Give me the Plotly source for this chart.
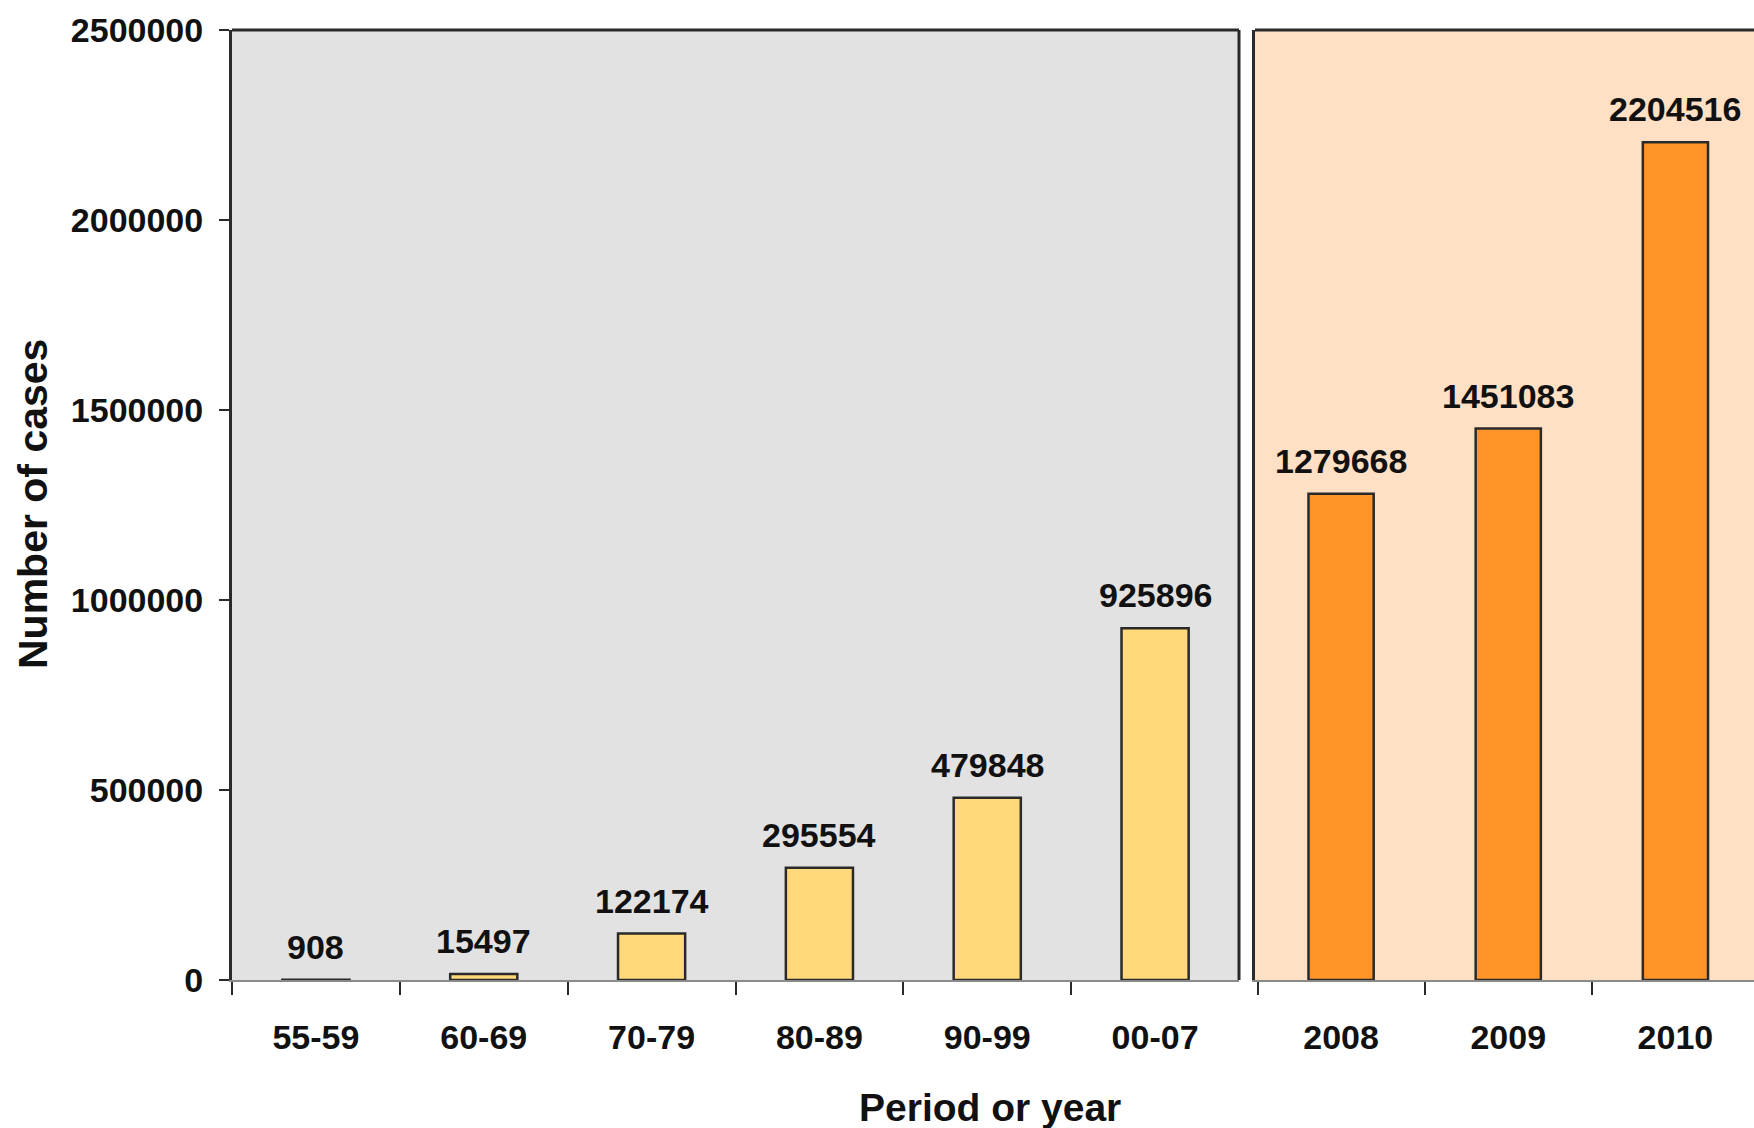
import plotly.graph_objects as go

# Case counts by period (left panel) and by single year (right panel)
periods = ["55-59", "60-69", "70-79", "80-89", "90-99", "00-07"]
period_cases = [908, 15497, 122174, 295554, 479848, 925896]

years = ["2008", "2009", "2010"]
year_cases = [1279668, 1451083, 2204516]

y_ticks = [0, 500000, 1000000, 1500000, 2000000, 2500000]

W, H = 1754, 1128
NUM_FONT = dict(family="Liberation Sans, Arial", size=34, color="#111111")
TITLE_FONT = dict(family="Liberation Sans, Arial", size=41, color="#111111")
XTITLE_FONT = dict(family="Liberation Sans, Arial", size=39, color="#111111")

X1_DOM = [232 / W, 1239 / W]
X2_DOM = [1255 / W, 1.0]
Y_DOM = [1 - 980 / H, 1 - 30 / H]

LEFT_BG = "#E2E2E2"
RIGHT_BG = "#FFE0C4"
YELLOW = "#FFD97A"
ORANGE = "#FF9429"
FRAME = "#2a2a2a"

fig = go.Figure()

fig.add_trace(go.Bar(
    x=periods, y=period_cases, xaxis="x", yaxis="y",
    marker=dict(color=YELLOW, line=dict(color=FRAME, width=2.5)),
    width=0.4, showlegend=False, hoverinfo="x+y",
))
fig.add_trace(go.Bar(
    x=years, y=year_cases, xaxis="x2", yaxis="y2",
    marker=dict(color=ORANGE, line=dict(color=FRAME, width=2.5)),
    width=0.39, showlegend=False, hoverinfo="x+y",
))

# Value labels above each bar (x given as category index)
annotations = []
for xa, ya, vals in (("x", "y", period_cases), ("x2", "y2", year_cases)):
    for i, v in enumerate(vals):
        annotations.append(dict(
            x=i, y=v, xref=xa, yref=ya, text=f"<b>{v}</b>", showarrow=False,
            xanchor="center", yanchor="bottom", yshift=12, font=NUM_FONT,
        ))

# Axis titles
annotations.append(dict(
    x=33 / W, y=1 - 504 / H, xref="paper", yref="paper", text="<b>Number of cases</b>",
    textangle=-90, showarrow=False, xanchor="center", yanchor="middle", font=TITLE_FONT,
))
annotations.append(dict(
    x=990 / W, y=1 - 1107 / H, xref="paper", yref="paper", text="<b>Period or year</b>",
    showarrow=False, xanchor="center", yanchor="middle", font=XTITLE_FONT,
))

shapes = [
    # panel backgrounds
    dict(type="rect", xref="x domain", yref="y domain", x0=0, x1=1, y0=0, y1=1,
         fillcolor=LEFT_BG, line=dict(width=0), layer="below"),
    dict(type="rect", xref="x2 domain", yref="y2 domain", x0=0, x1=1.01, y0=0, y1=1,
         fillcolor=RIGHT_BG, line=dict(width=0), layer="below"),
    # panel frames: top and right edge of the left panel, top of the right panel
    dict(type="line", xref="x domain", yref="y domain", x0=0, x1=1, y0=1, y1=1,
         line=dict(color=FRAME, width=3)),
    dict(type="line", xref="x domain", yref="y domain", x0=1, x1=1, y0=0, y1=1,
         line=dict(color=FRAME, width=3)),
    dict(type="line", xref="x2 domain", yref="y2 domain", x0=0, x1=1.01, y0=1, y1=1,
         line=dict(color=FRAME, width=3)),
]

xaxis_common = dict(
    type="category", showgrid=False, zeroline=False, automargin=False,
    showline=True, linecolor="#8a8a8a", linewidth=2,
    ticks="outside", tickson="boundaries", ticklen=13, tickwidth=2, tickcolor=FRAME,
    tickfont=NUM_FONT, ticklabelstandoff=26,
)

fig.update_layout(
    width=W, height=H,
    margin=dict(l=0, r=0, t=0, b=0, autoexpand=False),
    paper_bgcolor="white", plot_bgcolor="rgba(0,0,0,0)",
    xaxis=dict(**xaxis_common, anchor="y", domain=X1_DOM, range=[-0.5, 5.5],
               tickvals=list(range(len(periods))), ticktext=[f"<b>{p}</b>" for p in periods]),
    xaxis2=dict(**xaxis_common, anchor="y2", domain=X2_DOM, range=[-0.515, 2.47],
                tickvals=list(range(len(years))), ticktext=[f"<b>{y}</b>" for y in years]),
    yaxis=dict(
        domain=Y_DOM, anchor="x", range=[0, 2500000], automargin=False,
        tickvals=y_ticks, ticktext=[f"<b>{v}</b>" for v in y_ticks],
        showgrid=False, zeroline=False, showline=True, linecolor=FRAME, linewidth=3,
        ticks="outside", ticklen=10, tickwidth=2, tickcolor=FRAME,
        tickfont=NUM_FONT, ticklabelstandoff=9,
    ),
    yaxis2=dict(
        domain=Y_DOM, anchor="x2", range=[0, 2500000], automargin=False,
        showgrid=False, zeroline=False, showline=True, linecolor=FRAME, linewidth=3,
        showticklabels=False, ticks="",
    ),
    annotations=annotations,
    shapes=shapes,
)

fig.write_html("out.html")
